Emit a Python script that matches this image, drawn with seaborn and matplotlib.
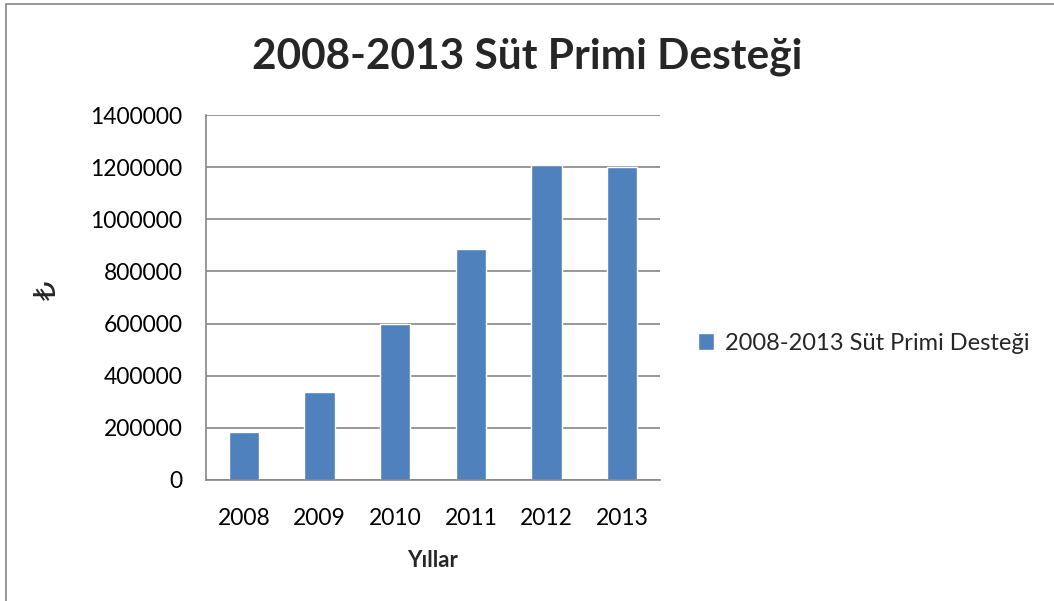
import pandas as pd
import seaborn as sns
import matplotlib.pyplot as plt
from matplotlib.patches import Rectangle

sns.set_theme(style="white")
plt.rcParams['font.family'] = ['Lato', 'DejaVu Sans']

# Veriler
yillar = ["2008", "2009", "2010", "2011", "2012", "2013"]
destek = [186000, 337000, 600000, 885000, 1209000, 1200000]
seri_adi = "2008-2013 Süt Primi Desteği"

df = pd.DataFrame({"Yıl": yillar, "Destek": destek, "Seri": seri_adi})

fig = plt.figure(figsize=(10.54, 6.01), dpi=100)
ax = fig.add_axes([206 / 1054, 1 - 480 / 601, (660 - 206) / 1054, (480 - 115) / 601])

sns.barplot(data=df, x="Yıl", y="Destek", hue="Seri", palette=["#4F81BD"],
            width=0.4, saturation=1, ax=ax, legend=True)

ax.set_ylim(0, 1400000)
ax.set_yticks(range(0, 1400001, 200000))
ax.set_yticklabels([str(v) for v in range(0, 1400001, 200000)])
ax.grid(axis="y", color="#868686", linewidth=1.2)
ax.set_axisbelow(True)
for s in ["top", "right"]:
    ax.spines[s].set_visible(False)
for s in ["left", "bottom"]:
    ax.spines[s].set_color("#868686")
    ax.spines[s].set_linewidth(1.2)
ax.tick_params(axis="both", length=0, labelsize=16.5, colors="black")
ax.tick_params(axis="y", pad=17)
ax.tick_params(axis="x", pad=20)

ax.set_xlabel("Yıllar", fontsize=16, fontweight="bold", labelpad=15)
ax.set_ylabel("₺", fontsize=22, family=["DejaVu Sans"])
ax.yaxis.set_label_coords(-(206 - 62) / 454, 0.52)

fig.text(0.5, 0.905, seri_adi, ha="center", va="center", fontsize=30.5, fontweight="bold")

ax.legend(loc="center left", bbox_to_anchor=(1.036, 0.375), frameon=False,
          fontsize=17, handlelength=0.7, handleheight=0.7, handletextpad=0.45)

fig.patches.append(Rectangle((6 / 1054, -0.01), 1.02, 1 - 4 / 601 + 0.01, transform=fig.transFigure,
                             fill=False, edgecolor="#868686", linewidth=1.2))

fig.savefig("out.png", dpi=100)
